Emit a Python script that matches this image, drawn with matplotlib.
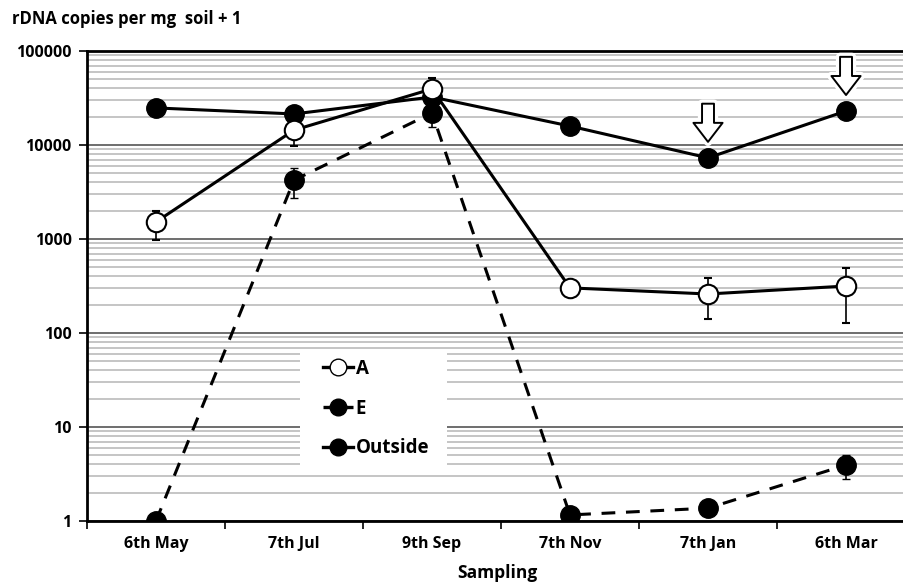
import numpy as np
import matplotlib.pyplot as plt
import matplotlib.patheffects as pe
from matplotlib.lines import Line2D
from matplotlib.patches import Rectangle

plt.rcParams['font.family'] = ['Open Sans', 'DejaVu Sans']
plt.rcParams['font.weight'] = 'bold'

# sampling dates
riqi = ['6th May', '7th Jul', '9th Sep', '7th Nov', '7th Jan', '6th Mar']

# rDNA copies per mg soil + 1
a_zhi = [1520, 14400, 39500, 302, 260, 316]
a_shang = [1980, 17500, 52000, 330, 385, 490]   # error bar top
a_xia = [980, 9700, 30000, 240, 140, 128]       # error bar bottom

e_zhi = [1, 4230, 21900, 1.16, 1.37, 3.94]
e_shang = [1, 5700, 26000, 1.16, 1.37, 5.0]
e_xia = [1, 2700, 15500, 1.16, 1.37, 2.8]

wai_zhi = [24800, 21400, 32400, 15900, 7300, 23000]

# arrows marking these samplings
jiantou = ['7th Jan', '6th Mar']

x = np.arange(len(riqi))

fig = plt.figure(figsize=(9.04, 5.85), dpi=100)
ax = fig.add_axes([0.0962, 0.1094, 0.916, 0.8034])

ax.set_yscale('log')
ax.set_ylim(1, 100000)
ax.set_xlim(-0.5, len(riqi) - 0.5)

# grid lines
ax.yaxis.grid(True, which='major', color='#555555', lw=1.2, zorder=0)
ax.yaxis.grid(True, which='minor', color='#bbbbbb', lw=1.2, zorder=0)
ax.set_axisbelow(True)

def cuowu(zhi, shang, xia):
    zhi = np.array(zhi, float)
    return np.vstack([zhi - np.array(xia, float), np.array(shang, float) - zhi])

ax.errorbar(x, wai_zhi, fmt='-o', color='black', lw=2.2, ms=14,
            mfc='black', mec='black', label='Outside', zorder=3)
ax.errorbar(x, e_zhi, yerr=cuowu(e_zhi, e_shang, e_xia), fmt='o', color='black',
            ms=14, mfc='black', mec='black', ecolor='black', elinewidth=1.2,
            capsize=3, zorder=4)
ax.plot(x, e_zhi, color='black', lw=2.2, ls=(0, (4.5, 3.5)), zorder=3)
ax.errorbar(x, a_zhi, yerr=cuowu(a_zhi, a_shang, a_xia), fmt='-o', color='black',
            lw=2.2, ms=14, mfc='white', mec='black', mew=1.5, ecolor='black',
            elinewidth=1.2, capsize=3, zorder=5)

# open down arrows
for d in jiantou:
    i = riqi.index(d)
    an = ax.annotate('', xy=(x[i], wai_zhi[i]), xytext=(0, 39), textcoords='offset points',
                     arrowprops=dict(arrowstyle='simple,head_length=1.37,head_width=2.1,tail_width=0.86',
                                     mutation_scale=10, fc='white', ec='black', lw=1.4,
                                     shrinkA=0, shrinkB=11.5),
                     zorder=6)
    an.arrow_patch.set_path_effects([pe.Stroke(linewidth=6, foreground='white'), pe.Normal()])

# legend: white box behind, entries on top
ax.add_patch(Rectangle((0.257, 0.117), 0.178, 0.240, transform=ax.transAxes,
                       fc='white', ec='none', zorder=1.5))
h_a = Line2D([], [], color='black', lw=2.4, marker='o', ms=12, mfc='white', mec='black')
h_e = Line2D([], [], color='black', lw=2.4, ls=(0, (2, 1.5)), marker='o', ms=12, mfc='black')
h_w = Line2D([], [], color='black', lw=2.4, marker='o', ms=12, mfc='black')
leg = ax.legend([h_a, h_e, h_w], ['A', 'E', 'Outside'], loc='upper left',
                bbox_to_anchor=(0.285, 0.345), frameon=False,
                prop={'size': 13.5, 'weight': 'bold'}, labelspacing=1.05,
                handlelength=1.6, handletextpad=0.15, borderpad=0,
                borderaxespad=0)
leg.set_zorder(2)

# axes look
for s in ['left', 'bottom', 'top']:
    ax.spines[s].set_linewidth(2)
    ax.spines[s].set_color('black')
ax.spines['right'].set_visible(False)

ax.set_yticks([1, 10, 100, 1000, 10000, 100000])
ax.set_yticklabels(['1', '10', '100', '1000', '10000', '100000'])
ax.yaxis.set_minor_formatter(plt.NullFormatter())
ax.tick_params(axis='y', which='major', direction='out', length=6, width=1.2,
               labelsize=11.5, pad=5)
ax.tick_params(axis='y', which='minor', length=0)

ax.set_xticks(np.arange(-0.5, len(riqi), 1.0))
ax.set_xticklabels([])
ax.set_xticks(x, minor=True)
ax.set_xticklabels(riqi, minor=True)
ax.tick_params(axis='x', which='major', direction='out', length=6, width=1.2)
ax.tick_params(axis='x', which='minor', length=0, labelsize=11.5, pad=11)
for t in ax.get_xticklabels(minor=True) + ax.get_yticklabels():
    t.set_fontweight('bold')

fig.text(0.0133, 0.968, 'rDNA copies per mg  soil + 1', fontsize=12, fontweight='bold',
         ha='left', va='center')
fig.text(0.55, 0.02, 'Sampling', fontsize=12.5, fontweight='bold', ha='center', va='center')

fig.savefig('out.png', dpi=100)
